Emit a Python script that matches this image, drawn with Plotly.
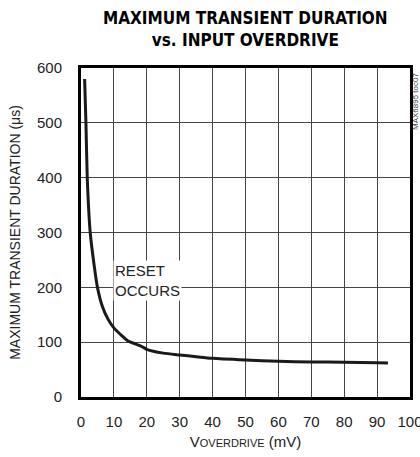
import plotly.graph_objects as go

overdrive_mv = [1.1, 1.5, 1.9, 2.8, 4.0, 5.0, 6.5, 8.2, 10, 12, 14.3, 16, 18.5, 20, 25, 30, 35, 40, 50, 60, 70, 80, 90, 93.3]
duration_us = [580, 500, 400, 300, 240, 200, 165, 142, 126, 114, 102, 98, 92, 87, 80, 76.6, 73.5, 70.6, 67.5, 65, 64, 63.3, 62.6, 62]

x_ticks = [0, 10, 20, 30, 40, 50, 60, 70, 80, 90, 100]
y_ticks = [0, 100, 200, 300, 400, 500, 600]

FONT = "Liberation Sans, Arial"
TFONT = "DejaVu Sans Condensed, DejaVu Sans"

fig = go.Figure()
fig.add_trace(go.Scatter(x=overdrive_mv, y=duration_us, mode="lines",
                         line=dict(color="#1a1a1a", width=3, shape="spline", smoothing=0.6),
                         hoverinfo="skip", showlegend=False))

fig.update_layout(
    width=420, height=457,
    margin=dict(l=81, r=10, t=68, b=60),
    paper_bgcolor="white", plot_bgcolor="white",
    font=dict(family=FONT, size=14, color="#222"),
    xaxis=dict(range=[0, 100], tickvals=x_ticks, ticktext=[str(v) for v in x_ticks],
               showgrid=True, gridcolor="#444", gridwidth=1, automargin=False,
               showline=True, linecolor="black", linewidth=3, mirror=True,
               ticks="", zeroline=False, tickfont=dict(size=15, family=FONT),
               ticklabelstandoff=9, ticklabeloverflow="allow",
               title=dict(text="V<span style='font-size:11px'>OVERDRIVE</span> (mV)",
                          font=dict(size=15, family=FONT), standoff=8)),
    yaxis=dict(range=[0, 600], tickvals=y_ticks, ticktext=[str(v) for v in y_ticks],
               showgrid=True, gridcolor="#444", gridwidth=1, automargin=False,
               showline=True, linecolor="black", linewidth=3, mirror=True,
               ticks="", zeroline=False, tickfont=dict(size=15, family=FONT),
               ticklabelstandoff=13, ticklabeloverflow="allow",
               title=dict(text="MAXIMUM TRANSIENT DURATION (μs)",
                          font=dict(size=14, family=FONT), standoff=14)),
)

fig.add_annotation(x=0.5, y=1.0, xref="paper", yref="paper", xanchor="center", yanchor="bottom",
                   yshift=16, text="<b>MAXIMUM TRANSIENT DURATION<br>vs. INPUT OVERDRIVE</b>",
                   showarrow=False, font=dict(size=17, family=TFONT, color="black"))

fig.add_annotation(x=9.8, y=212, xref="x", yref="y", xanchor="left", yanchor="middle",
                   text="RESET<br>OCCURS", showarrow=False, align="left",
                   bgcolor="white", font=dict(size=15, family=FONT, color="#222"))

fig.add_annotation(x=1.0, y=1.0, xref="paper", yref="paper", xanchor="center", yanchor="middle",
                   xshift=5, yshift=-34, text="MAX6895 toc07", textangle=-90, showarrow=False,
                   borderpad=0, font=dict(size=8, family=FONT, color="#444"))

fig.write_html("out.html", config={"displayModeBar": False},
               post_script="document.body.style.margin='0';document.body.style.overflow='hidden';")
